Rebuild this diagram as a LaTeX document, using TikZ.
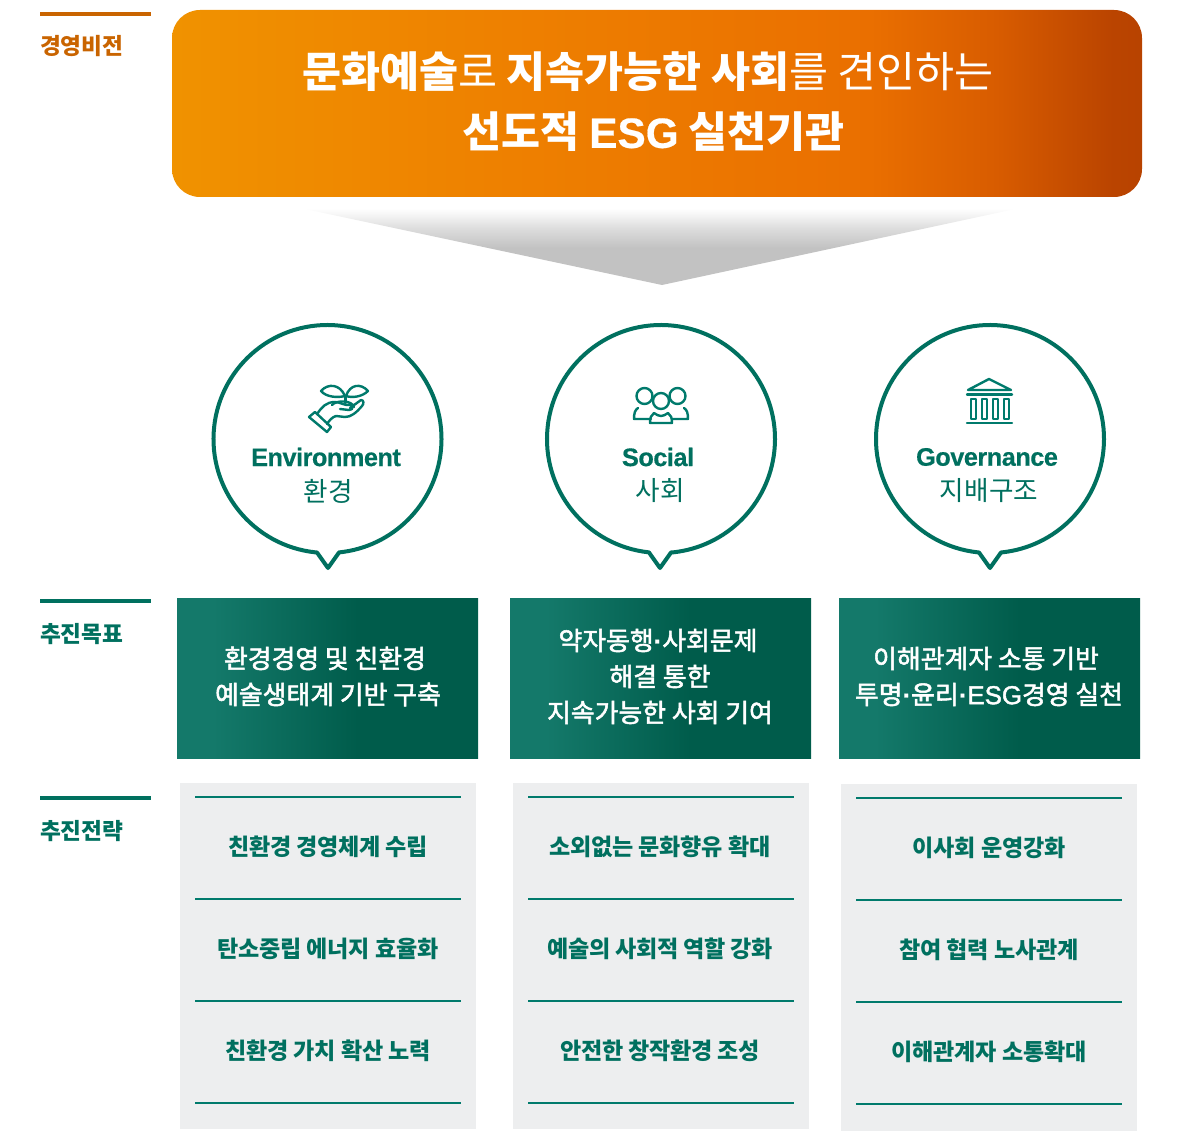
\documentclass[tikz,border=0pt]{standalone}
\usepackage{fontspec}
\setmainfont{Noto Sans CJK KR}
\newfontfamily\krm[RawFeature={embolden=2.0}]{Noto Sans CJK KR}
\newfontfamily\lat{Liberation Sans}
\newfontfamily\latm[RawFeature={embolden=1.6}]{Liberation Sans}
\newfontfamily\latb[RawFeature={embolden=0.4}]{Liberation Sans Bold}
\newcommand\dotm{{\latb ·}}
\usetikzlibrary{calc}
\definecolor{teal}{HTML}{00705F}
\definecolor{ruleteal}{HTML}{007A6C}
\definecolor{orangelabel}{HTML}{C96400}
\definecolor{stratbg}{HTML}{EDEEEF}
\definecolor{ba}{HTML}{F09200}\definecolor{bb}{HTML}{EE8000}\definecolor{bd}{HTML}{EA6F00}\definecolor{be}{HTML}{D85C00}\definecolor{bf}{HTML}{BA4400}\definecolor{bg}{HTML}{B84300}
\definecolor{ga}{HTML}{14796A}\definecolor{gb}{HTML}{005C4B}
\definecolor{aa}{HTML}{C2C2C2}\definecolor{ac}{HTML}{DDDDDD}\definecolor{ae}{HTML}{F6F6F6}\definecolor{ad}{HTML}{FFFFFF}
\pgfdeclarehorizontalshading{bannershade}{100bp}{
 color(0bp)=(ba); color(25bp)=(ba); color(42.5bp)=(bb); color(61bp)=(bd); color(67.5bp)=(be); color(73.5bp)=(bf); color(75bp)=(bg); color(100bp)=(bg)}
\pgfdeclarehorizontalshading{goalshade}{100bp}{
 color(0bp)=(ga); color(31bp)=(ga); color(55bp)=(gb); color(100bp)=(gb)}
\pgfdeclareverticalshading{arrowshade}{100bp}{
 color(0bp)=(aa); color(49bp)=(aa); color(62bp)=(ac); color(71bp)=(ae); color(75bp)=(ad); color(100bp)=(ad)}
\tikzset{
 x=0.75pt,y=-0.75pt,
 lblbar/.style={line width=3.6pt},
 lbltext/.style={anchor=west,inner sep=0pt,font=\fontsize{17}{20}\selectfont\bfseries\addfontfeature{LetterSpace=-1}},
 bannertext/.style={text=white,inner sep=0pt,font=\fontsize{31.8}{38}\selectfont},
 goaltext/.style={text=white,align=center,inner sep=0pt,font=\fontsize{19.4}{27}\krm},
 stratbox/.style={fill=stratbg,draw=none},
 rule/.style={draw=ruleteal,line width=1.5pt},
 strat/.style={text=teal,inner sep=0pt,font=\fontsize{17.3}{20}\selectfont\bfseries\addfontfeature{LetterSpace=-1}},
 bubble/.style={draw=teal,line width=3pt,line join=round,fill=white},
 icon/.style={draw=ruleteal,line width=1.8pt,line join=round,line cap=round},
 bubE/.style={text=teal,inner sep=0pt,font=\fontsize{19}{22}\latb\addfontfeature{LetterSpace=-2}},
 bubK/.style={text=teal,inner sep=0pt,font=\fontsize{20}{24}\selectfont},
}
\begin{document}
\begin{tikzpicture}
\useasboundingbox (0,0) rectangle (1200,1145);
% labels
\coordinate (l1a) at (40,14); \coordinate (l1b) at (151,14);
\coordinate (l2a) at (40,601); \coordinate (l2b) at (151,601);
\coordinate (l3a) at (40,798); \coordinate (l3b) at (151,798);
\draw[lblbar,draw=orangelabel] (l1a) -- (l1b);
\draw[lblbar,draw=teal] (l2a) -- (l2b);
\draw[lblbar,draw=teal] (l3a) -- (l3b);
\node[lbltext,text=orangelabel] (lab1) at (40,46) {경영비전};
\node[lbltext,text=teal] (lab2) at (40,634) {추진목표};
\node[lbltext,text=teal] (lab3) at (40,831) {추진전략};
% banner
\shade[shading=bannershade,rounded corners=21pt] (172,10) rectangle (1142,197);
\node[bannertext] (banner1) at (648,72)
 {{\bfseries 문화예술}로 {\bfseries 지속가능한 사회}를 견인하는};
\node[bannertext] (banner2) at (653.5,132)
 {{\bfseries 선도적 {\latb ESG} 실천기관}};
% arrow
\shade[shading=arrowshade] (300,208) -- (1020,208) -- (662,285) -- cycle;
% bubbles
\foreach \n/\cx/\tip in {E/327.5/328,S/661/660,G/990/990}{
 \draw[bubble] (\tip,568) -- (\tip-11,552.5) -- ({\cx+114*cos(96)},{439+114*sin(96)})
   arc[start angle=96,end angle=444,radius=114] -- (\tip+11,552.5) -- cycle;
}
\node[bubE] (eE) at (326,457) {Environment};
\node[bubK] (eK) at (328,491) {환경};
\node[bubE] (sE) at (658,457) {Social};
\node[bubK] (sK) at (660,491) {사회};
\node[bubE] (gE) at (987,457) {Governance};
\node[bubK] (gK) at (989,491) {지배구조};
% icon env
\draw[icon] (321,391) .. controls (328,383) and (340,384) .. (345,396) .. controls (337,398) and (326,397) .. cycle;
\draw[icon] (368,391) .. controls (361,383) and (350,384) .. (346,396) .. controls (352,398) and (362,397) .. cycle;
\draw[icon] (345.5,396) -- (345.5,403);
\draw[icon] (332,405) .. controls (336,400) and (352,400) .. (354,407);
\draw[icon] (317,414) .. controls (322,407) and (326,402) .. (335,402) .. controls (340,402) and (345,406) .. (350,405)
  .. controls (353,405) and (354,410) .. (349,410) -- (340,409);
\draw[icon] (350,408) -- (361,400) .. controls (364,400) and (364,404) .. (362,406) .. controls (356,413) and (351,417) .. (345,417)
  -- (336,416) .. controls (332,417) and (329,421) .. (327,424);
\draw[icon] (309,417) -- (315,412) -- (331,427) -- (327,432) -- cycle;
% icon social
\draw[icon] (644.5,396) circle[radius=8];
\draw[icon] (677.5,396) circle[radius=8];
\draw[icon,fill=white] (661,401) circle[radius=8];
\draw[icon] (651,419) -- (634,419) .. controls (634,413) and (635,410) .. (638,408);
\draw[icon] (684,408) .. controls (687,410) and (688,413) .. (688,419) -- (672,419);
\draw[icon] (650,423) .. controls (650,418) and (651,415) .. (654,413) .. controls (660,417) and (662,417) .. (668,413)
  .. controls (671,415) and (672,418) .. (672,423) -- cycle;
% icon gov
\draw[icon] (968,390) -- (989,379) -- (1011,390) -- cycle;
\draw[icon] (967,394.5) -- (1012,394.5);
\draw[icon] (967,423) -- (1012,423);
\foreach \xx in {970.5,981.5,992.5,1003.5}{
 \draw[icon,line width=1.5pt] (\xx,399) rectangle ++(5.5,19.5);
}
% goal boxes
\shade[shading=goalshade] (177,598) rectangle (478,758.7);
\shade[shading=goalshade] (510,598) rectangle (811,758.7);
\shade[shading=goalshade] (839,598) rectangle (1140,758.7);
\node[goaltext] (g1) at (328,676.5) {환경경영 및 친환경\hspace*{4.5pt}\\예술생태계 기반 구축};
\node[goaltext] (g2) at (660,676.5) {약자동행\dotm 사회문제\hspace*{3pt}\\해결 통한\\지속가능한 사회 기여};
\node[goaltext] (g3) at (989,676.5) {이해관계자 소통 기반\hspace*{4.5pt}\\투명\dotm 윤리\dotm{\latm ESG}경영 실천};
% strategy
\fill[stratbox] (180,783) rectangle (476,1129);
\fill[stratbox] (513,783) rectangle (809,1129);
\fill[stratbox] (841,784) rectangle (1137,1131);
\foreach \yy in {797,899,1001,1103}{
 \draw[rule] (195,\yy) -- (461,\yy);
 \draw[rule] (528,\yy) -- (794,\yy);
 \draw[rule] (856,\yy+1) -- (1122,\yy+1);
}
\node[strat] (s11) at (328,847) {친환경 경영체계 수립};
\node[strat] (s12) at (328,949) {탄소중립 에너지 효율화};
\node[strat] (s13) at (328,1051) {친환경 가치 확산 노력};
\node[strat] (s21) at (660,847) {소외없는 문화향유 확대};
\node[strat] (s22) at (660,949) {예술의 사회적 역할 강화};
\node[strat] (s23) at (660,1051) {안전한 창작환경 조성};
\node[strat] (s31) at (989,848) {이사회 운영강화};
\node[strat] (s32) at (989,950) {참여 협력 노사관계};
\node[strat] (s33) at (989,1052) {이해관계자 소통확대};
\end{tikzpicture}
\end{document}
